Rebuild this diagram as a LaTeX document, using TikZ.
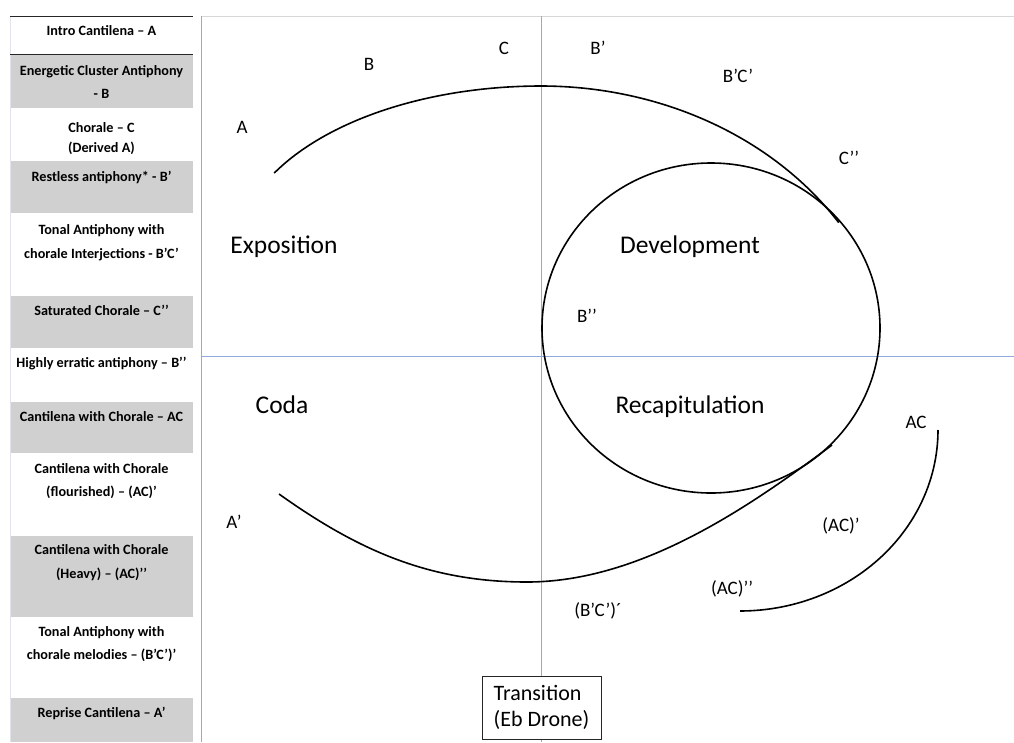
\documentclass[tikz,border=0pt]{standalone}
\usepackage{fontspec}
\setmainfont{Carlito}
\definecolor{axisblue}{RGB}{143,170,220}
\definecolor{rowgrey}{RGB}{208,208,208}
\definecolor{topgrey}{RGB}{215,215,215}
\definecolor{faint}{RGB}{225,228,235}
\begin{document}
\begin{tikzpicture}[x=1pt,y=-1pt,
  tabtxt/.style={font=\bfseries\fontsize{14.2}{16}\selectfont, anchor=base, inner sep=0pt},
  lbl/.style={font=\fontsize{19}{22}\selectfont, anchor=base, inner sep=0pt},
  sect/.style={font=\fontsize{25.5}{29}\selectfont, anchor=base, inner sep=0pt},
  axisline/.style={draw=axisblue, line width=1.1pt},
  curveline/.style={line width=1.6pt, draw=black},
  greyrow/.style={fill=rowgrey, draw=none},
  tabline/.style={draw=black!85, line width=1pt}]
\useasboundingbox (0,0) rectangle (1014,742);
\fill[white] (0,0) rectangle (1014,742);
% table shading
\foreach \a/\b in {54/108,161/213,296/348,402/453,536/617,698/742}
  \path[greyrow] (10,\a) rectangle (193,\b);
\draw[draw=faint, line width=0.6pt] (10,16) -- (10,742);
\draw[tabline] (10,16) -- (193,16);
\draw[tabline] (10,54) -- (193,54);
% frame and axes
\draw[draw=topgrey, line width=0.8pt] (201,16) -- (1014,16);
\draw[axisline] (201.5,16) -- (201.5,742);
\draw[axisline] (541.5,16) -- (541.5,742);
\draw[axisline] (201,356.5) -- (1014,356.5);
% table texts
\node[tabtxt] (t1) at (101.5,35.5) {Intro Cantilena – A};
\node[tabtxt] (t2a) at (101.5,75.5) {Energetic Cluster Antiphony};
\node[tabtxt] (t2b) at (101.5,98.5) {- B};
\node[tabtxt] (t3a) at (101.5,132.5) {Chorale – C};
\node[tabtxt] (t3b) at (101.5,152.5) {(Derived A)};
\node[tabtxt] (t4) at (101.5,181) {Restless antiphony* - B’};
\node[tabtxt] (t5a) at (101.5,234) {Tonal Antiphony with};
\node[tabtxt] (t5b) at (101.5,258.5) {chorale Interjections - B’C’};
\node[tabtxt] (t6) at (101.5,315.5) {Saturated Chorale – C’’};
\node[tabtxt] (t7) at (101.5,367.5) {Highly erratic antiphony – B’’};
\node[tabtxt] (t8) at (101.5,421.5) {Cantilena with Chorale – AC};
\node[tabtxt] (t9a) at (101.5,473.5) {Cantilena with Chorale};
\node[tabtxt] (t9b) at (101.5,496.5) {(flourished) – (AC)’};
\node[tabtxt] (t10a) at (101.5,554.5) {Cantilena with Chorale};
\node[tabtxt] (t10b) at (101.5,578.5) {(Heavy) – (AC)’’};
\node[tabtxt] (t11a) at (101.5,636.5) {Tonal Antiphony with};
\node[tabtxt] (t11b) at (101.5,659.5) {chorale melodies – (B’C’)’};
\node[tabtxt] (t12) at (101.5,717.5) {Reprise Cantilena – A’};
% curves
\draw[curveline, line join=round]
  plot[domain=151:90, samples=60] ({541+305*cos(\x)},{255-169*sin(\x)})
  -- plot[domain=90:33, samples=60] ({541+355*cos(\x)},{386-300*sin(\x)});
\draw[curveline] (711,328) ellipse [x radius=169, y radius=165];
\draw[curveline] (279,494) .. controls (359,551) and (430,582) .. (527,582)
                 .. controls (640,582) and (748,508) .. (832,445);
\draw[curveline] plot[domain=0:90, samples=60] ({740+198*cos(\x)},{430+181*sin(\x)});
% labels
\node[lbl] (lA) at (242,133.5) {A};
\node[lbl] (lB) at (369,70.5) {B};
\node[lbl] (lC) at (504,54.5) {C};
\node[lbl] (lBp) at (598,54.5) {B’};
\node[lbl] (lBC) at (738,82.5) {B’C’};
\node[lbl] (lCpp) at (849,164.5) {C’’};
\node[lbl] (lBpp) at (587,322.5) {B’’};
\node[lbl] (lAC) at (916,428.5) {AC};
\node[lbl] (lACp) at (841,531.5) {(AC)’};
\node[lbl] (lACpp) at (732,594.5) {(AC)’’};
\node[lbl] (lAp) at (234,528.5) {A’};
\node[lbl] (lBCp) at (598,616.5) {(B’C’)´};
\node[sect] (exp) at (284,253) {Exposition};
\node[sect] (dev) at (690,253) {Development};
\node[sect] (coda) at (282,413) {Coda};
\node[sect] (recap) at (690,413) {Recapitulation};
% transition box
\node[draw=black!85, fill=white, line width=1pt, minimum width=119pt, minimum height=63pt,
      inner sep=0pt, align=left, font=\fontsize{22}{26}\selectfont] (trans) at (541.5,707.5)
      {Transition\\(Eb Drone)};
\end{tikzpicture}
\end{document}
